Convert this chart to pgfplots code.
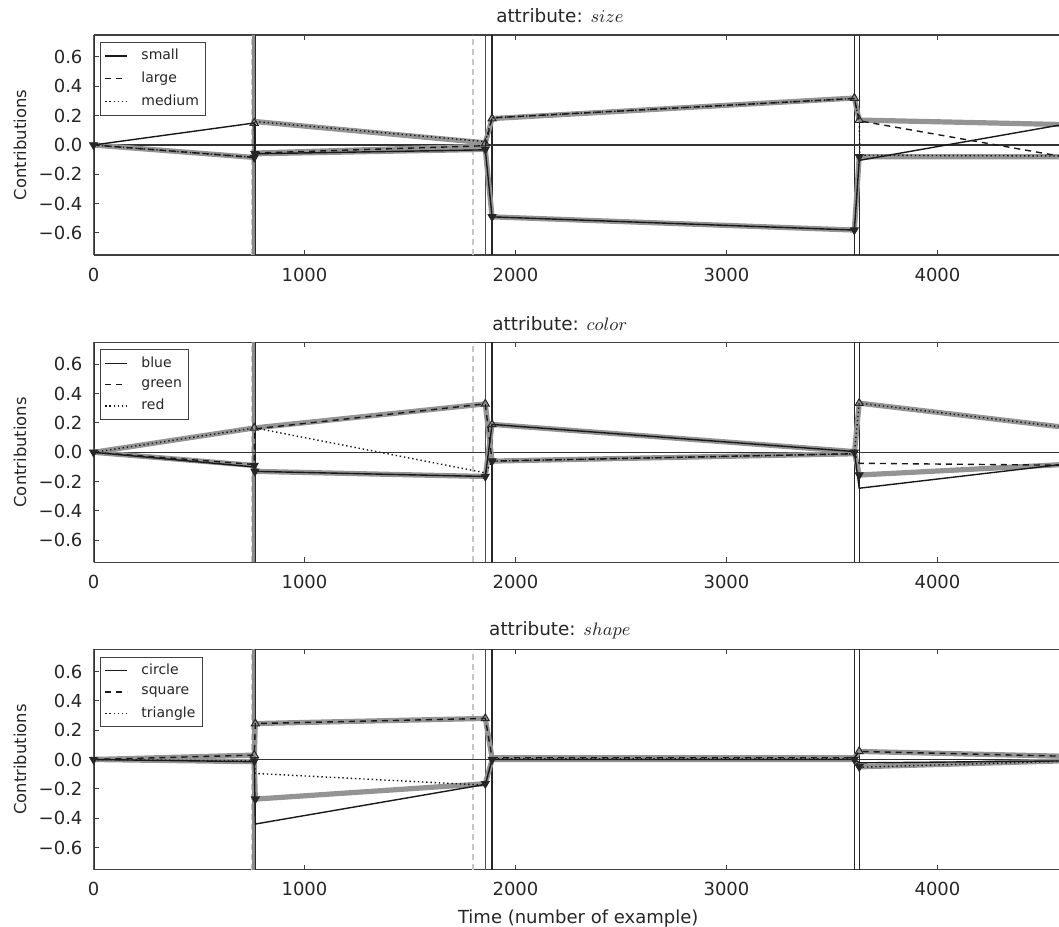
\documentclass[border=0pt]{standalone}
\usepackage{pgfplots}
\pgfplotsset{compat=1.18}
\usepackage{fontspec}
\setmainfont{DejaVu Sans}

\definecolor{estgray}{gray}{0.58}
\definecolor{vgray}{gray}{0.55}
\definecolor{dgray}{gray}{0.78}

\tikzset{
  truel/.style={black!90, line width=0.7pt},
  est/.style={estgray, line width=2.6pt, line join=round},
  dsh/.style={dash pattern=on 3pt off 2.5pt},
  dtt/.style={dash pattern=on 0.7pt off 1.4pt},
}

\pgfplotsset{
  panel/.style={
    scale only axis, width=482.75pt, height=110pt,
    xmin=0, xmax=4576, ymin=-0.75, ymax=0.75,
    axis x line*=box, axis y line*=left,
    axis line style={black!75, line width=0.7pt},
    xtick={0,1000,2000,3000,4000}, xticklabels={0,1000,2000,3000,4000},
    ytick={-0.6,-0.4,-0.2,0,0.2,0.4,0.6},
    yticklabels={−0.6,−0.4,−0.2,0.0,0.2,0.4,0.6},
    tick align=inside, major tick length=2.5pt,
    every tick/.style={black!75, line width=0.5pt},
    ticklabel style={font=\fontsize{9}{10}\selectfont, text=black!85},
    xticklabel style={yshift=-3pt},
    yticklabel style={xshift=-2pt},
    ylabel={Contributions},
    every axis y label/.style={at={(axis description cs:-0.0761,0.5)}, rotate=90, anchor=center, font=\fontsize{8.2}{9}\selectfont, text=black!85},
    every axis title/.style={at={(axis description cs:0.483,1)}, anchor=center, yshift=9.5pt, font=\fontsize{9.2}{10}\selectfont, text=black!85},
    legend cell align=left,
    legend image code/.code={\draw[##1] (0pt,0pt) -- (11pt,0pt);},
    legend style={at={(0.0067,0.968)}, anchor=north west, draw=black!75, line width=0.5pt,
      font=\fontsize{7}{8}\selectfont, inner sep=2pt, row sep=2pt,
      /tikz/every odd column/.append style={column sep=5.5pt},
      nodes={inner sep=1.3pt, text=black!85}},
    clip=true,
  },
  upm/.style={only marks, mark=triangle, mark size=2.3pt, mark options={black!85, fill=white, line width=0.5pt}, forget plot},
  dnm/.style={only marks, mark=triangle*, mark size=2.3pt, mark options={rotate=180, black!85, fill=black!85, line width=0.4pt}, forget plot},
}

\newcommand{\vlines}{%
  \addplot[dgray, line width=0.8pt, dash pattern=on 3pt off 2pt, forget plot] coordinates {(749,-0.75) (749,0.75)};
  \addplot[dgray, line width=0.8pt, dash pattern=on 3pt off 2pt, forget plot] coordinates {(1798,-0.75) (1798,0.75)};
  \addplot[vgray, line width=1.5pt, forget plot] coordinates {(0,-0.75) (0,0.75)};
  \addplot[vgray, line width=1.3pt, forget plot] coordinates {(759,-0.75) (759,0.75)};
  \addplot[black!80, line width=0.6pt, forget plot] coordinates {(4,-0.75) (4,0.75)};
  \addplot[black!85, line width=0.6pt, forget plot] coordinates {(767,-0.75) (767,0.75)};
  \addplot[black!70, line width=0.6pt, forget plot] coordinates {(1857,-0.75) (1857,0.75)};
  \addplot[black!85, line width=0.6pt, forget plot] coordinates {(1889,-0.75) (1889,0.75)};
  \addplot[black!85, line width=0.6pt, forget plot] coordinates {(3606,-0.75) (3606,0.75)};
  \addplot[black!85, line width=0.6pt, forget plot] coordinates {(3629,-0.75) (3629,0.75)};
  \addplot[black!80, line width=0.6pt, forget plot] coordinates {(0,0) (4576,0)};
}

\begin{document}
\begin{tikzpicture}
\useasboundingbox (0,0) rectangle (529.5pt,463pt);

% ---------------- size ----------------
\begin{axis}[panel, at={(46.75pt,335.5pt)}, anchor=south west, title={attribute: $size$}]
\vlines
\addplot[est, forget plot] coordinates {(0,0) (762,-0.085) (765,-0.06) (1857,-0.03) (1889,-0.49) (3606,-0.58) (3629,-0.08) (4576,-0.08)};
\addplot[est, forget plot] coordinates {(765,0.16) (1857,0.015) (1889,0.18) (3606,0.32) (3629,0.17) (4576,0.14)};
\addplot[est, forget plot] coordinates {(765,-0.055) (1857,-0.008)};
\addplot[truel] coordinates {(0,0) (762,0.15) (765,-0.06) (1857,-0.033) (1889,-0.49) (3606,-0.58) (3629,-0.105) (4576,0.135)};
\addplot[truel, dsh] coordinates {(0,0) (762,-0.085) (765,-0.055) (1857,-0.005) (1889,0.185) (3606,0.317) (3629,0.165) (4576,-0.075)};
\addplot[truel, dtt] coordinates {(0,0) (762,-0.085) (765,0.16) (1857,0.023) (1889,0.185) (3606,0.317) (3629,0.165) (3632,-0.07) (4576,-0.075)};
\addplot[upm] coordinates {(762,0.15) (1857,0.01) (1889,0.18) (3606,0.32) (3629,0.17)};
\addplot[dnm] coordinates {(0,0) (762,-0.085) (765,-0.06) (1857,-0.03) (1889,-0.49) (3606,-0.58) (3629,-0.08)};
\legend{small,large,medium}
\end{axis}

% ---------------- color ----------------
\begin{axis}[panel, at={(46.75pt,181.85pt)}, anchor=south west, title={attribute: $color$}]
\vlines
\addplot[est, forget plot] coordinates {(0,0) (762,0.166) (1857,0.33) (1889,-0.06) (3606,-0.01) (3629,0.335) (4576,0.175)};
\addplot[est, forget plot] coordinates {(0,0) (762,-0.09) (765,-0.13) (1857,-0.165) (1889,0.19) (3606,0.005) (3629,-0.155) (4576,-0.085)};
\addplot[truel] coordinates {(0,0) (762,-0.10) (765,-0.13) (1857,-0.165) (1889,0.19) (3606,0.005) (3629,-0.245) (4576,-0.085)};
\addplot[truel, dsh] coordinates {(0,0) (762,-0.083) (765,0.16) (1857,0.33) (1889,-0.06) (3606,-0.01) (3629,-0.075) (4576,-0.088)};
\addplot[truel, dtt] coordinates {(0,0) (765,0.166) (1857,-0.14) (1889,-0.06) (3606,-0.01) (3629,0.335) (4576,0.175)};
\addplot[upm] coordinates {(762,0.166) (1857,0.33) (1889,0.19) (3629,0.335)};
\addplot[dnm] coordinates {(0,0) (762,-0.09) (765,-0.13) (1857,-0.165) (1889,-0.06) (3606,0) (3629,-0.155)};
\legend{blue,green,red}
\end{axis}

% ---------------- shape ----------------
\begin{axis}[panel, at={(46.75pt,28.25pt)}, anchor=south west, title={attribute: $shape$},
  xlabel={Time (number of example)},
  every axis x label/.style={at={(axis description cs:0.502,0)}, anchor=center, yshift=-24.5pt, font=\fontsize{9}{10}\selectfont, text=black!85}]
\vlines
\addplot[est, forget plot] coordinates {(0,0) (762,0.03) (767,0.245) (1857,0.28) (1889,0.012) (3606,0.012) (3629,0.055) (4576,0.023)};
\addplot[est, forget plot] coordinates {(0,0) (762,-0.015) (767,-0.27) (1857,-0.165) (1889,0.0) (3606,0.0) (3629,-0.05) (4576,-0.01)};
\addplot[truel] coordinates {(0,0) (762,-0.015) (767,-0.44) (1857,-0.17) (1889,0.0) (3606,0.0) (3629,-0.023) (4576,-0.01)};
\addplot[truel, dsh] coordinates {(0,0) (762,0.03) (767,0.245) (1857,0.28) (1889,0.012) (3606,0.012) (3629,0.055) (4576,0.023)};
\addplot[truel, dtt] coordinates {(0,0) (762,-0.01) (767,-0.095) (1857,-0.175) (1889,0.005) (3606,0.005) (3629,-0.053) (4576,-0.012)};
\addplot[upm] coordinates {(762,0.03) (767,0.245) (1857,0.28) (3629,0.055)};
\addplot[dnm] coordinates {(0,0) (762,-0.01) (767,-0.27) (1857,-0.165) (1889,0.0) (3606,0.0) (3629,-0.05)};
\legend{circle,square,triangle}
\end{axis}
\end{tikzpicture}
\end{document}
